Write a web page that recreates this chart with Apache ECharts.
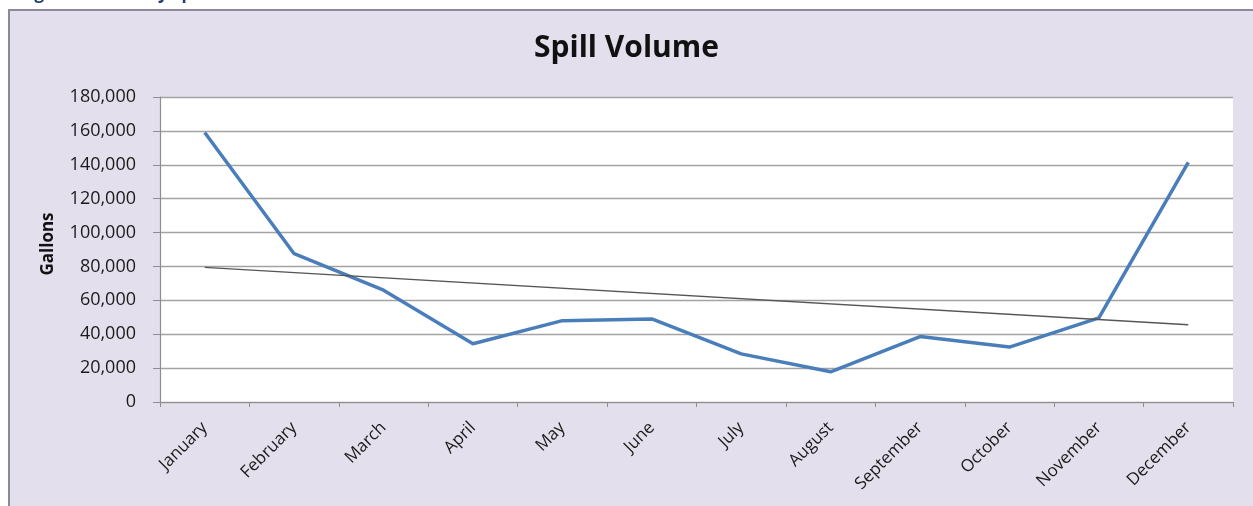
<!DOCTYPE html>
<html>
<head>
<meta charset="utf-8">
<script src="https://cdn.jsdelivr.net/npm/echarts@6/dist/echarts.min.js"></script>
<style>
  html, body { margin: 0; padding: 0; background: #ffffff; }
  #chart { width: 1253px; height: 506px; }
</style>
</head>
<body>
<div id="chart"></div>
<script>
// Monthly spill volume (gallons)
const months = ['January', 'February', 'March', 'April', 'May', 'June',
                'July', 'August', 'September', 'October', 'November', 'December'];
const volumes = [159000, 87500, 66000, 34400, 48000, 49000,
                 28400, 17800, 38600, 32400, 49600, 141400];
// Linear trend line, value at first and last month
const trendEnds = [79400, 45600];
const yTicks = [0, 20000, 40000, 60000, 80000, 100000, 120000, 140000, 160000, 180000];

const trendData = months.map((m, i) =>
  i === 0 ? trendEnds[0] : (i === months.length - 1 ? trendEnds[1] : null));

const fmt = v => v.toLocaleString('en-US');
const font = '"Open Sans", "Liberation Sans", sans-serif';

const chart = echarts.init(document.getElementById('chart'), null, { renderer: 'canvas' });
chart.setOption({
  animation: false,
  backgroundColor: '#ffffff',
  graphic: [
    {
      type: 'rect', z: -10, silent: true,
      shape: { x: 9, y: 10, width: 1270, height: 520 },
      style: { fill: '#E4DFEC', stroke: '#8C8A98', lineWidth: 2 }
    },
    {
      type: 'text', silent: true, x: 20, y: 3,
      style: { text: 'Figure 6. Monthly Spill Volume', fill: '#1F3A6E',
               font: 'bold 17px ' + font, verticalAlign: 'bottom' }
    },
    {
      type: 'text', silent: true, x: 48, y: 244, rotation: Math.PI / 2,
      style: { text: 'Gallons', fill: '#111111', font: 'bold 17px ' + font,
               align: 'center', verticalAlign: 'middle' }
    }
  ],
  title: {
    text: 'Spill Volume', left: 'center', top: 28,
    textStyle: { fontFamily: font, fontWeight: 'bold', fontSize: 30, color: '#111111' }
  },
  grid: {
    left: 160, right: 20, top: 97, bottom: 104,
    show: true, backgroundColor: '#ffffff', borderWidth: 0
  },
  xAxis: {
    type: 'category', data: months, boundaryGap: true,
    axisLine: { lineStyle: { color: '#8E8E8E', width: 1.2 } },
    axisTick: { show: true, interval: 0, length: 5, lineStyle: { color: '#8E8E8E' } },
    axisLabel: { interval: 0, rotate: 45, margin: 23, color: '#1a1a1a',
                 fontFamily: font, fontSize: 17 }
  },
  yAxis: {
    type: 'value', min: yTicks[0], max: yTicks[yTicks.length - 1],
    interval: yTicks[1] - yTicks[0],
    axisLine: { show: true, lineStyle: { color: '#8E8E8E', width: 1.2 } },
    axisTick: { show: true, length: 7, lineStyle: { color: '#8E8E8E' } },
    axisLabel: { margin: 24, color: '#1a1a1a', fontFamily: font, fontSize: 18,
                 formatter: v => fmt(v) },
    splitLine: { lineStyle: { color: '#A3A3A3', width: 1.3 } }
  },
  series: [
    {
      type: 'line', data: volumes, symbol: 'none',
      lineStyle: { color: '#4A7EBB', width: 3.5 }, z: 3
    },
    {
      type: 'line', data: trendData, symbol: 'none', connectNulls: true,
      lineStyle: { color: '#555555', width: 1.3 }, z: 4
    }
  ]
});
</script>
</body>
</html>
